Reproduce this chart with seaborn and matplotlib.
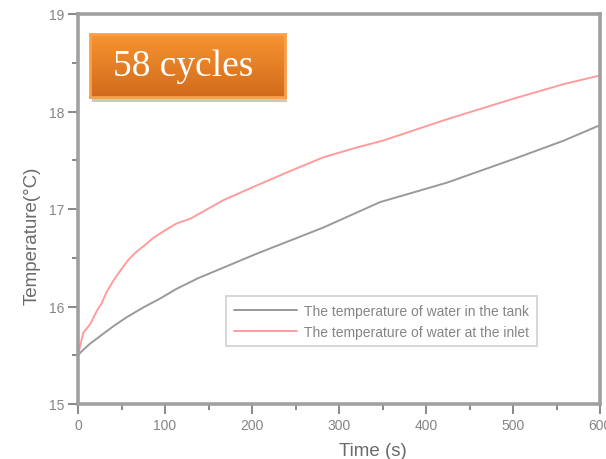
import numpy as np
import pandas as pd
import matplotlib
matplotlib.use("Agg")
import matplotlib.pyplot as plt
import seaborn as sns
from matplotlib.ticker import MultipleLocator
from matplotlib.patches import Rectangle

# Tank water temperature over time
tank_time = [0, 3, 14, 29, 41, 56, 75, 94, 113, 138, 205, 282, 347, 424, 500, 558, 600]
tank_temp = [15.50, 15.53, 15.62, 15.72, 15.80, 15.89, 15.99, 16.08, 16.18, 16.29,
             16.54, 16.81, 17.07, 17.27, 17.51, 17.70, 17.86]

# Inlet water temperature over time
inlet_time = [0, 6, 14, 22, 27, 33, 41, 48, 58, 67, 77, 86, 98, 113, 129, 167, 205,
              244, 282, 320, 350, 424, 500, 558, 600]
inlet_temp = [15.50, 15.73, 15.82, 15.96, 16.03, 16.15, 16.27, 16.36, 16.48, 16.56,
              16.63, 16.70, 16.77, 16.85, 16.90, 17.09, 17.24, 17.39, 17.53, 17.63,
              17.70, 17.92, 18.13, 18.28, 18.37]

series_names = ["The temperature of water in the tank",
                "The temperature of water at the inlet"]
badge_text = "58 cycles"

df = pd.concat([
    pd.DataFrame({"Time": tank_time, "Temp": tank_temp, "Series": series_names[0]}),
    pd.DataFrame({"Time": inlet_time, "Temp": inlet_temp, "Series": series_names[1]}),
])

sns.set_theme(style="white")
plt.rcParams["font.family"] = ["Liberation Sans", "DejaVu Sans"]

fig = plt.figure(figsize=(6.06, 4.60), dpi=100)
ax = fig.add_axes([78 / 606, 1 - 405 / 460, 522 / 606, 390 / 460])

sns.lineplot(data=df, x="Time", y="Temp", hue="Series", sort=False,
             palette={series_names[0]: "#9a9a9a", series_names[1]: "#ff9c9c"},
             linewidth=1.4, ax=ax)

ax.set_xlim(0, 600)
ax.set_ylim(15, 19)
ax.xaxis.set_major_locator(MultipleLocator(100))
ax.xaxis.set_minor_locator(MultipleLocator(50))
ax.yaxis.set_major_locator(MultipleLocator(1))
ax.yaxis.set_minor_locator(MultipleLocator(0.5))

spine_col = "#a0a0a0"
for s in ax.spines.values():
    s.set_visible(True)
    s.set_color(spine_col)
    s.set_linewidth(2.6)

ax.tick_params(which="major", direction="out", length=7, width=1.4, color="#888888",
               labelsize=10, labelcolor="#858585", left=True, bottom=True, pad=3)
ax.tick_params(which="minor", direction="out", length=4, width=1.4, color="#888888",
               left=True, bottom=True)

ax.set_xlabel("Time (s)", fontsize=13.5, color="#6a6a6a", va="center")
ax.set_ylabel("Temperature(°C)", fontsize=13.5, color="#6a6a6a", va="center")
ax.xaxis.set_label_coords(0.565, -0.12)
ax.yaxis.set_label_coords(-0.088, 0.433)

leg = ax.legend(loc="lower left", bbox_to_anchor=(0.27, 0.13), fontsize=10,
                frameon=True, fancybox=False, handlelength=4.6, borderpad=0.55,
                labelspacing=0.5, handletextpad=0.5)
leg.get_frame().set_edgecolor("#cccccc")
leg.get_frame().set_linewidth(1.4)
for t in leg.get_texts():
    t.set_color("#858585")

# Orange badge with gradient fill and drop shadow
bx0, by0, bw, bh = 90, 35, 195, 63  # pixels from top-left
fig.patches.append(Rectangle(((bx0 + 2) / 606, 1 - (by0 + bh + 5) / 460),
                             bw / 606, (bh) / 460, transform=fig.transFigure,
                             facecolor="#c8c8c8", edgecolor="none", zorder=5))
bax = fig.add_axes([bx0 / 606, 1 - (by0 + bh) / 460, bw / 606, bh / 460], zorder=6)
grad = np.linspace(0, 1, 100).reshape(-1, 1)
top = np.array([0.97, 0.58, 0.19])
bot = np.array([0.82, 0.42, 0.11])
img = top + (bot - top) * grad[..., None]
bax.imshow(img, aspect="auto", extent=[0, 1, 0, 1], origin="upper")
bax.set_xlim(0, 1)
bax.set_ylim(0, 1)
bax.set_xticks([])
bax.set_yticks([])
for s in bax.spines.values():
    s.set_color("#f9a04a")
    s.set_linewidth(2)
bax.text(0.48, 0.50, badge_text, ha="center", va="center", color="white",
         fontsize=27, family=["Liberation Serif", "DejaVu Serif"])

fig.savefig("out.png", dpi=100)
